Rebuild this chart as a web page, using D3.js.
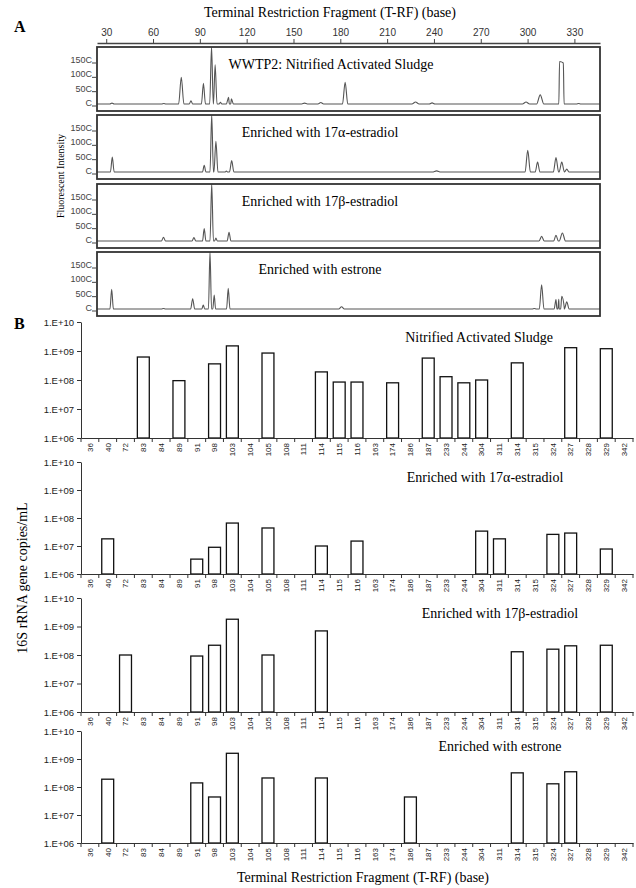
<!DOCTYPE html>
<html>
<head>
<meta charset="utf-8">
<script src="https://cdn.jsdelivr.net/npm/d3@7"></script>
<style>
  body { margin: 0; background: #fff; }
</style>
</head>
<body>
<div id="chart"></div>
<script>
// ---- panel A: electropherograms, peaks as [base, intensity, half width] ----
const baseTicks = [30, 60, 90, 120, 150, 180, 210, 240, 270, 300, 330];
const intensityTicks = [0, 500, 1000, 1500];
const intensityLabels = ["C", "50C", "100C", "150C"];

const sludgePeaks = [
  [33.7, 30, 1.4], [66.9, 20, 1.4], [78.1, 930, 1.7], [84.3, 110, 1.1], [92.3, 720, 1.3],
  [97.5, 2000, 1.2], [99.8, 1370, 1.2], [103.2, 60, 0.9], [108.4, 230, 1.4], [110.2, 180, 1.3],
  [157.1, 30, 1.8], [167.5, 50, 1.8], [183.1, 760, 1.7], [228.2, 70, 2.3], [238.8, 40, 1.8],
  [299, 70, 2.3], [308.1, 320, 2.3], [320.5, 1480, 2.9], [322.9, 1430, 2.9], [332.7, 20, 1.4]
];
const alphaPeaks = [
  [33.9, 520, 1.2], [92.8, 230, 1.1], [97.6, 2000, 1.1], [100.3, 1070, 1.3], [107, 30, 0.9],
  [110.4, 400, 1.4], [241.7, 40, 2.7], [300.1, 760, 1.7], [306.4, 350, 1.5], [318.2, 500, 1.7],
  [321.9, 350, 1.7], [325.1, 100, 1.4]
];
const betaPeaks = [
  [66.7, 130, 1.3], [86.2, 120, 1.2], [92.8, 430, 1.1], [97.6, 2000, 1.1], [100.3, 100, 0.9],
  [108.7, 300, 1.2], [309, 160, 1.7], [318.2, 200, 1.5], [322.3, 280, 2]
];
const estronePeaks = [
  [33.5, 690, 1.1], [66.7, 20, 1.4], [85.4, 360, 1.3], [92.2, 140, 0.9], [96.5, 2000, 1],
  [99.2, 490, 0.9], [108.2, 720, 1.1], [180.8, 80, 1.8], [304.3, 20, 1.4], [309, 840, 1.5],
  [318.2, 330, 1.2], [320, 340, 1.2], [321.9, 440, 1.7], [325.1, 250, 1.5]
];
const traceTitles = [
  "WWTP2: Nitrified Activated Sludge",
  "Enriched with 17\u03b1-estradiol",
  "Enriched with 17\u03b2-estradiol",
  "Enriched with estrone"
];
const traces = [sludgePeaks, alphaPeaks, betaPeaks, estronePeaks];

// ---- panel B: 16S rRNA gene copies per T-RF ----
const fragments = ["36", "40", "72", "83", "84", "89", "91", "98", "103", "104", "105", "108", "111", "114", "115",
  "116", "163", "174", "186", "187", "233", "244", "304", "311", "314", "315", "324", "327", "328", "329", "342"];
const sludgeCopies = [null, null, null, 6.2e8, null, 9.5e7, null, 3.6e8, 1.5e9, null, 8.5e8, null, null, 1.9e8, 8.5e7,
  8.5e7, null, 8e7, null, 5.7e8, 1.3e8, 8e7, 1e8, null, 3.9e8, null, null, 1.3e9, null, 1.2e9, null];
const alphaCopies = [null, 1.8e7, null, null, null, null, 3.4e6, 9e6, 6.6e7, null, 4.4e7, null, null, 1e7, null,
  1.5e7, null, null, null, null, null, null, 3.4e7, 1.8e7, null, null, 2.6e7, 2.9e7, null, 7.8e6, null];
const betaCopies = [null, null, 1e8, null, null, null, 9.2e7, 2.2e8, 1.8e9, null, 1e8, null, null, 7e8, null,
  null, null, null, null, null, null, null, null, null, 1.3e8, null, 1.6e8, 2.1e8, null, 2.2e8, null];
const estroneCopies = [null, 1.9e8, null, null, null, null, 1.4e8, 4.4e7, 1.6e9, null, 2.1e8, null, null, 2.1e8, null,
  null, null, null, 4.4e7, null, null, null, null, null, 3.2e8, null, 1.3e8, 3.5e8, null, null, null];
const copyTicks = [1e6, 1e7, 1e8, 1e9, 1e10];
const barTitles = ["Nitrified Activated Sludge", "Enriched with 17\u03b1-estradiol",
  "Enriched with 17\u03b2-estradiol", "Enriched with estrone"];
const barSeries = [sludgeCopies, alphaCopies, betaCopies, estroneCopies];

const width = 636, height = 888;
const serif = "'Liberation Serif', 'Times New Roman', serif";
const sans = "'Liberation Sans', Arial, sans-serif";

const svg = d3.select("#chart").append("svg")
  .attr("width", width)
  .attr("height", height)
  .style("font-family", serif);

// ================= A =================
svg.append("text").attr("x", 14).attr("y", 32)
  .attr("font-size", 16).attr("font-weight", "bold").text("A");

svg.append("text").attr("x", 330).attr("y", 17)
  .attr("text-anchor", "middle").attr("font-size", 14)
  .text("Terminal Restriction Fragment (T-RF) (base)");

const xA = d3.scaleLinear().domain([24.1, 346.4]).range([97, 600]);

const topAxis = svg.append("g")
  .attr("transform", "translate(0,43)")
  .call(d3.axisTop(xA).tickValues(baseTicks).tickSize(4).tickSizeOuter(0).tickPadding(3));
topAxis.select(".domain").attr("stroke", "#444").attr("stroke-width", 1.4);
topAxis.selectAll(".tick line").attr("stroke", "#444");
topAxis.selectAll("text").attr("font-family", sans).attr("font-size", 10).attr("fill", "#333");

const panelTops = [47, 115, 184, 252];
const panelH = 64;

svg.append("defs").selectAll("clipPath")
  .data(panelTops).enter().append("clipPath")
  .attr("id", (d, i) => "clipA" + i)
  .append("rect").attr("x", 97).attr("y", d => d).attr("width", 503).attr("height", panelH);

traces.forEach(function (peaks, i) {
  const top = panelTops[i];
  const yA = d3.scaleLinear().domain([0, 1500]).range([top + 57, top + 14]);

  const g = svg.append("g");

  // points of the trace: baseline at both ends, three points per peak
  let pts = [[xA.domain()[0], 0], [xA.domain()[1], 0]];
  peaks.forEach(p => {
    pts.push([p[0] - p[2], 0], [p[0], p[1]], [p[0] + p[2], 0.001]);
  });
  pts.sort((a, b) => a[0] - b[0]);

  const line = d3.line()
    .x(d => xA(d[0]))
    .y(d => yA(d[1]))
    .curve(d3.curveMonotoneX);

  g.append("path")
    .datum(pts)
    .attr("clip-path", "url(#clipA" + i + ")")
    .attr("d", line)
    .attr("fill", "none")
    .attr("stroke", "#555")
    .attr("stroke-width", 1.1);

  g.append("rect")
    .attr("x", 97).attr("y", top)
    .attr("width", 503).attr("height", panelH)
    .attr("fill", "none")
    .attr("stroke", "#333")
    .attr("stroke-width", 1.8);

  intensityTicks.forEach(function (t, k) {
    g.append("text")
      .attr("x", 92).attr("y", yA(t) + 2)
      .attr("text-anchor", "end")
      .attr("font-family", sans).attr("font-size", 9).attr("fill", "#444")
      .text(intensityLabels[k]);
    g.append("line")
      .attr("x1", 92).attr("x2", 96)
      .attr("y1", yA(t) + 2).attr("y2", yA(t) + 2)
      .attr("stroke", "#444");
  });

  g.append("text")
    .attr("x", i === 0 ? 331 : 320).attr("y", top + 22)
    .attr("text-anchor", "middle").attr("font-size", 14)
    .text(traceTitles[i]);
});

svg.append("text")
  .attr("transform", "translate(64,176) rotate(-90)")
  .attr("text-anchor", "middle").attr("font-size", 10)
  .text("Fluorescent Intensity");

// ================= B =================
svg.append("text").attr("x", 14).attr("y", 329)
  .attr("font-size", 16).attr("font-weight", "bold").text("B");

const xB = d3.scaleBand().domain(fragments).range([81, 633]).paddingInner(0.33).paddingOuter(0.165);
const step = xB.step();

const chartSpans = [[322, 438], [462, 574], [598, 712], [731, 843]];
const titleX = [479, 485, 500, 500];

barSeries.forEach(function (values, i) {
  const yB = d3.scaleLog().domain([1e6, 1e10]).range([chartSpans[i][1], chartSpans[i][0]]);
  const g = svg.append("g");

  const rows = fragments.map((f, k) => ({ frag: f, v: values[k] })).filter(d => d.v);

  g.selectAll(".bar")
    .data(rows)
    .enter().append("rect")
    .attr("class", "bar")
    .attr("x", d => xB(d.frag))
    .attr("width", xB.bandwidth())
    .attr("y", d => yB(d.v))
    .attr("height", d => yB(1e6) - yB(d.v))
    .attr("fill", "#fff")
    .attr("stroke", "#111")
    .attr("stroke-width", 1.3);

  const yAxis = g.append("g")
    .attr("transform", "translate(81,0)")
    .call(d3.axisLeft(yB).tickValues(copyTicks).tickSize(4).tickSizeOuter(0).tickPadding(3)
      .tickFormat(d => {
        const e = Math.round(Math.log10(d));
        return "1.E+" + (e < 10 ? "0" + e : e);
      }));
  yAxis.select(".domain").attr("stroke", "#333");
  yAxis.selectAll(".tick line").attr("stroke", "#333");
  yAxis.selectAll("text").attr("font-family", sans).attr("font-size", 9.5).attr("fill", "#222");

  const xAxis = g.append("g")
    .attr("transform", "translate(0," + yB(1e6) + ")")
    .call(d3.axisBottom(xB).tickSize(0).tickSizeOuter(0));
  xAxis.select(".domain").attr("stroke", "#333");
  xAxis.selectAll("text")
    .attr("font-family", sans).attr("font-size", 8).attr("fill", "#222")
    .attr("transform", "rotate(-90)")
    .attr("text-anchor", "end")
    .attr("x", -5).attr("y", 0).attr("dy", "0.35em");

  // tick marks between categories
  g.selectAll(".sep")
    .data(d3.range(fragments.length + 1))
    .enter().append("line")
    .attr("x1", k => 81 + k * step).attr("x2", k => 81 + k * step)
    .attr("y1", yB(1e6)).attr("y2", yB(1e6) + 4)
    .attr("stroke", "#333");

  g.append("text")
    .attr("x", titleX[i]).attr("y", yB(1e10) + 20)
    .attr("text-anchor", "middle").attr("font-size", 14)
    .text(barTitles[i]);
});

svg.append("text")
  .attr("transform", "translate(27,578) rotate(-90)")
  .attr("text-anchor", "middle").attr("font-size", 14)
  .text("16S rRNA gene copies/mL");

svg.append("text")
  .attr("x", 363).attr("y", 882)
  .attr("text-anchor", "middle").attr("font-size", 14)
  .text("Terminal Restriction Fragment (T-RF) (base)");
</script>
</body>
</html>
